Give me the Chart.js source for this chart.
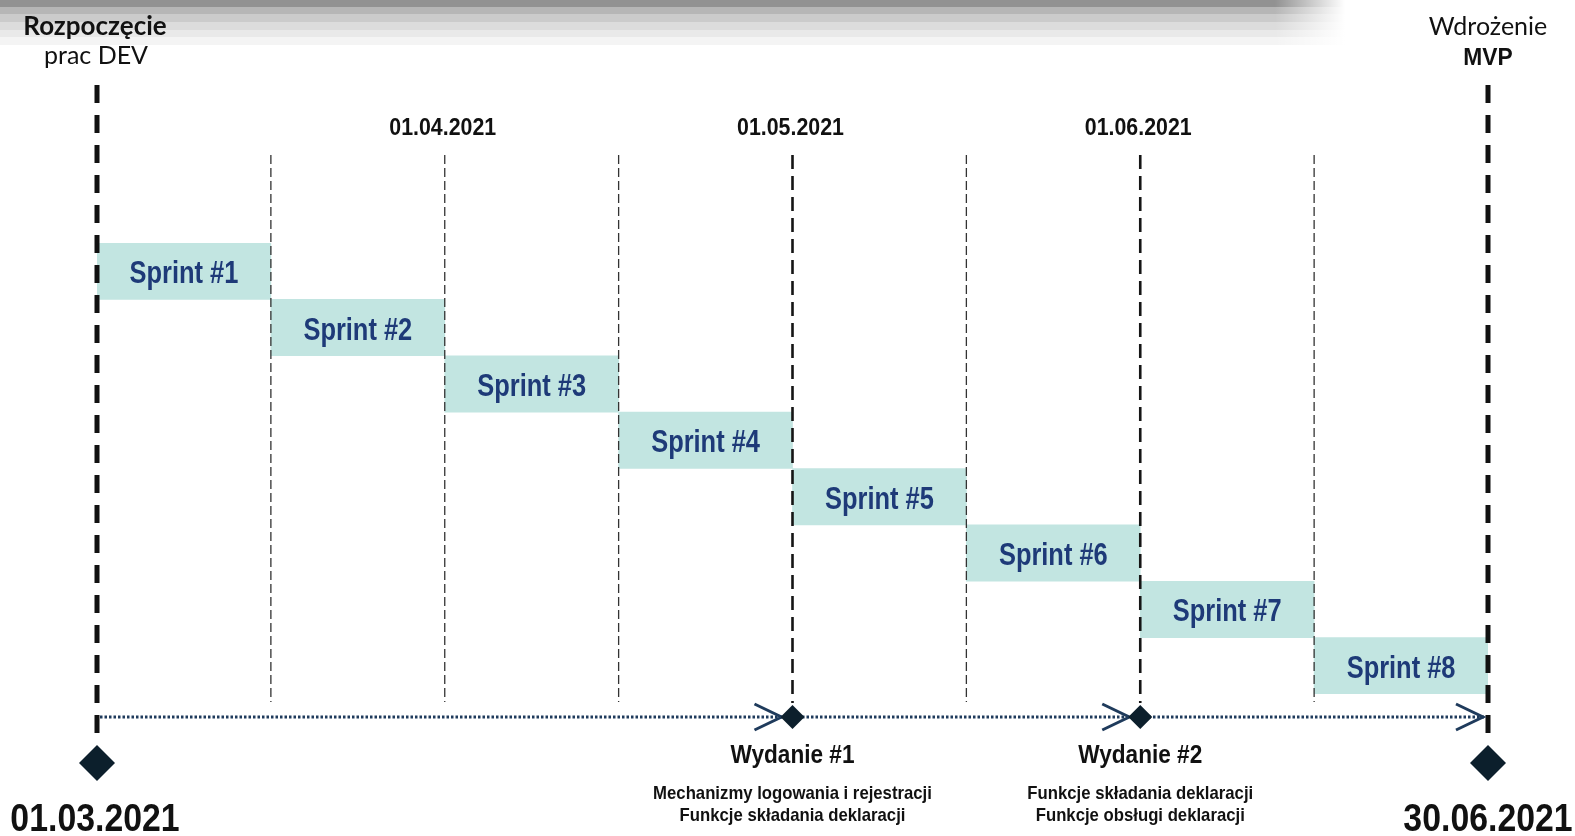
<!DOCTYPE html>
<html><head><meta charset="utf-8">
<script src="https://cdn.jsdelivr.net/npm/chart.js@4"></script>
<style>html,body{margin:0;padding:0;background:#fff;overflow:hidden}#wrap{width:1575px;height:836px;position:relative}</style>
</head><body><div id="wrap"><canvas id="c" width="1575" height="836"></canvas></div>
<script>
// ---- data ----
const sprintLabels = ['Sprint #1','Sprint #2','Sprint #3','Sprint #4','Sprint #5','Sprint #6','Sprint #7','Sprint #8'];
const sprintStart = [0,1,2,3,4,5,6,7];
const sprintEnd   = [1,2,3,4,5,6,7,8];
const gridPositions = [1,2,3,5,7];
const monthPositions = [4,6];
const dateTickPositions = [2,4,6];
const dateTickLabels = ['01.04.2021','01.05.2021','01.06.2021'];
const startPos = 0, endPos = 8;
const startTitle = ['Rozpoczęcie','prac DEV'];
const endTitle = ['Wdrożenie','MVP'];
const startDate = '01.03.2021';
const endDate = '30.06.2021';
const releasePositions = [4,6];
const releaseTitles = ['Wydanie #1','Wydanie #2'];
const releaseNotes1 = ['Mechanizmy logowania i rejestracji','Funkcje składania deklaracji'];
const releaseNotes2 = ['Funkcje składania deklaracji','Funkcje obsługi deklaracji'];
const releaseNotes = [releaseNotes1, releaseNotes2];

const ARIAL = '"Liberation Sans",Arial,sans-serif';
const NAVY = '#1f3b5c';

function vline(ctx,x,y1,y2,w,dash,color){
  ctx.save();ctx.beginPath();ctx.lineWidth=w;ctx.strokeStyle=color;ctx.setLineDash(dash);
  ctx.moveTo(x,y1);ctx.lineTo(x,y2);ctx.stroke();ctx.restore();
}
function diamond(ctx,x,y,r,color){
  ctx.save();ctx.beginPath();ctx.fillStyle=color;
  ctx.moveTo(x,y-r);ctx.lineTo(x+r,y);ctx.lineTo(x,y+r);ctx.lineTo(x-r,y);ctx.closePath();ctx.fill();ctx.restore();
}
function chevron(ctx,tip,y){
  ctx.save();ctx.beginPath();ctx.strokeStyle=NAVY;ctx.lineWidth=3;ctx.lineJoin='miter';
  ctx.moveTo(tip-27,y-13);ctx.lineTo(tip,y);ctx.lineTo(tip-27,y+13);ctx.stroke();ctx.restore();
}
function text(ctx,str,x,y,font,color,sx){
  ctx.save();ctx.font=font;ctx.fillStyle=color;ctx.textAlign='center';ctx.textBaseline='alphabetic';
  ctx.translate(x,y);ctx.scale(sx||1,1);ctx.fillText(str,0,0);ctx.restore();
}

const overlay = {
  id:'overlay',
  beforeDraw(chart){
    const ctx=chart.ctx;
    ctx.save();
    ctx.fillStyle='#fff';ctx.fillRect(0,0,chart.width,chart.height);
    const bands=['#929292','#b6b6b6','#cbcbcb','#dcdcdc','#e9e9e9','#f4f4f4'];
    const edges=[0,7,14,22,30,37,45];
    for(let i=0;i<bands.length;i++){ctx.fillStyle=bands[i];ctx.fillRect(0,edges[i],chart.width,edges[i+1]-edges[i]);}
    const g=ctx.createLinearGradient(1275,0,1345,0);
    g.addColorStop(0,'rgba(255,255,255,0)');g.addColorStop(1,'rgba(255,255,255,1)');
    ctx.fillStyle=g;ctx.fillRect(1275,0,chart.width-1275,45);
    ctx.restore();
  },
  afterDatasetsDraw(chart){
    const ctx=chart.ctx, xs=chart.scales.x;
    const px=v=>xs.getPixelForValue(v);
    // bar labels
    const meta=chart.getDatasetMeta(0);
    meta.data.forEach((el,i)=>{
      text(ctx,sprintLabels[i],(el.x+el.base)/2,el.y+12,'bold 31px '+ARIAL,'#1e3a78',0.82);
    });
    // grid lines
    gridPositions.forEach(p=>vline(ctx,px(p),155,702,1.3,[9,4],'#333'));
    monthPositions.forEach(p=>vline(ctx,px(p),155,703,2.6,[14,7],'#151515'));
    [startPos,endPos].forEach(p=>vline(ctx,px(p),85,743,5,[18,12],'#111'));
    // date ticks
    dateTickPositions.forEach((p,i)=>text(ctx,dateTickLabels[i],px(p)-2,135,'bold 24px '+ARIAL,'#111',0.89));
    // timeline
    const ty=717;
    ctx.save();ctx.beginPath();ctx.strokeStyle=NAVY;ctx.lineWidth=3;ctx.setLineDash([2.5,2]);
    ctx.moveTo(px(startPos)+3,ty);ctx.lineTo(px(endPos)-4,ty);ctx.stroke();ctx.restore();
    releasePositions.forEach(p=>chevron(ctx,px(p)-11,ty));
    chevron(ctx,px(endPos)-5,ty);
    releasePositions.forEach(p=>diamond(ctx,px(p),ty,12,'#0c1f2c'));
    [startPos,endPos].forEach(p=>diamond(ctx,px(p),763,18,'#0c1f2c'));
    // release texts
    releasePositions.forEach((p,i)=>{
      text(ctx,releaseTitles[i],px(p),763,'bold 26px '+ARIAL,'#111',0.87);
      releaseNotes[i].forEach((s,j)=>text(ctx,s,px(p),799+j*22,'bold 19px '+ARIAL,'#111',0.88));
    });
    // start/end
    text(ctx,startTitle[0],px(startPos)-2,35,'bold 26px Lato, sans-serif','#111');
    text(ctx,startTitle[1],px(startPos)-1,64,'25px Lato, sans-serif','#111');
    text(ctx,endTitle[0],px(endPos),35,'25px Lato, sans-serif','#111');
    text(ctx,endTitle[1],px(endPos),65,'bold 24px '+ARIAL,'#111',0.95);
    text(ctx,startDate,px(startPos)-2,831,'bold 38px '+ARIAL,'#111',0.89);
    text(ctx,endDate,px(endPos),831,'bold 38px '+ARIAL,'#111',0.89);
  }
};

new Chart(document.getElementById('c'),{
  type:'bar',
  data:{labels:sprintLabels,datasets:[{
    data:sprintStart.map((s,i)=>[s,sprintEnd[i]]),
    backgroundColor:'#c2e5e1',borderWidth:0,barPercentage:1,categoryPercentage:1
  }]},
  options:{
    indexAxis:'y',responsive:false,animation:false,devicePixelRatio:1,
    layout:{padding:{left:97,right:87,top:243,bottom:142}},
    scales:{x:{type:'linear',min:startPos,max:endPos,display:false},y:{display:false}},
    plugins:{legend:{display:false},tooltip:{enabled:false}}
  },
  plugins:[overlay]
});
</script></body></html>
